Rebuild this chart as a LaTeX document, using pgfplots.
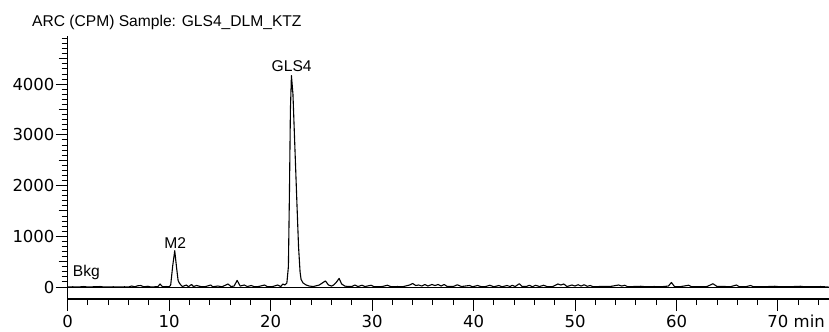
\documentclass[border=0pt]{standalone}
\usepackage{fontspec}
\setmainfont{Liberation Sans}
\newfontfamily\tickfont{DejaVu Sans}
\usepackage{pgfplots}
\pgfplotsset{compat=1.18}
\begin{document}
\begin{tikzpicture}
\begin{axis}[name=ax, scale only axis, width=761pt, height=263pt,
  xmin=0, xmax=75, ymin=-236, ymax=4950,
  axis x line*=bottom, axis y line*=left,
  axis line style={line width=1.1pt, -},
  tick align=outside,
  major tick length=12pt, minor tick length=6pt,
  every tick/.style={line width=1pt, black},
  xtick={0,10,...,70}, xticklabels={0,10,20,30,40,50,60,{70\rlap{ min}}},
  minor xtick={2,4,6,8,12,14,16,18,22,24,26,28,32,34,36,38,42,44,46,48,52,54,56,58,62,64,66,68,72,74},
  ytick={0,1000,...,4000},
  minor ytick={100,200,...,4900},
  extra y ticks={500,1500,2500,3500,4500}, extra y tick labels={},
  extra tick style={major tick length=9pt},
  /pgf/number format/1000 sep={},
  /pgf/number format/assume math mode=true,
  tick label style={font=\tickfont\fontsize{16.5}{18}\selectfont, black},
  yticklabel style={inner sep=1pt},
  xticklabel style={inner sep=0pt, yshift=-4pt},
  clip=false,
]
\addplot[black, line width=0.8pt] coordinates {(0,0) (75,0)};
\addplot[black, line width=1.1pt, line join=round] coordinates {
(0,0) (0.5,5) (1.0,0) (1.6,10) (2.0,0) (2.5,5) (3.2,10) (3.6,0) (4.5,5) (5.0,0)
(5.6,5) (6.0,0) (6.3,20) (6.6,5) (6.9,25) (7.2,30) (7.5,5) (7.9,15) (8.2,0) (8.6,5)
(8.9,10) (9.1,60) (9.35,5) (9.7,10) (10.0,5) (10.15,40) (10.35,420) (10.55,715) (10.72,400) (10.88,130)
(11.0,80) (11.15,40) (11.3,10) (11.7,40) (11.9,5) (12.2,50) (12.4,10) (12.7,30) (12.9,20) (13.2,5)
(13.6,10) (14.1,40) (14.3,5) (14.8,20) (15.2,5) (15.8,60) (16.1,10) (16.4,20) (16.7,130) (17.0,20)
(17.4,40) (17.7,10) (18.1,30) (18.4,5) (18.8,10) (19.4,40) (19.7,5) (20.2,10) (20.7,40) (21.0,10)
(21.2,60) (21.4,40) (21.6,80) (21.75,400) (21.85,1800) (21.95,3500) (22.05,4170) (22.2,3800) (22.4,2700) (22.6,1600)
(22.75,800) (22.9,300) (23.0,150) (23.2,80) (23.5,40) (23.8,20) (24.2,10) (24.8,40) (25.1,80) (25.4,120)
(25.7,40) (26.0,20) (26.2,40) (26.5,100) (26.75,170) (27.0,60) (27.3,20) (27.6,10) (28.0,10) (28.3,40)
(28.6,10) (29.0,35) (29.3,10) (29.9,35) (30.2,5) (31.0,10) (31.5,35) (31.9,5) (32.5,10) (33.0,5)
(33.4,25) (33.7,40) (34.0,70) (34.3,30) (34.6,40) (34.9,20) (35.2,50) (35.5,20) (35.9,50) (36.2,30)
(36.5,50) (36.8,20) (37.1,50) (37.4,10) (38.0,10) (38.4,45) (38.8,10) (39.2,20) (39.6,30) (39.9,5)
(40.4,30) (40.8,5) (41.2,10) (41.6,35) (42.0,5) (42.5,30) (42.8,5) (43.3,30) (43.6,10) (43.8,35)
(44.1,10) (44.5,65) (44.8,10) (45.2,10) (45.5,35) (45.8,5) (46.1,35) (46.5,10) (46.9,35) (47.3,5)
(47.8,10) (48.3,60) (48.6,40) (48.9,60) (49.2,10) (49.7,40) (50.0,20) (50.3,45) (50.6,20) (50.9,45)
(51.2,15) (51.5,30) (51.8,5) (52.4,10) (53.0,10) (53.6,15) (54.0,30) (54.3,40) (54.6,20) (54.9,35)
(55.2,5) (55.8,10) (56.5,15) (57.0,5) (57.8,10) (58.5,5) (59.2,20) (59.5,90) (59.8,10) (60.3,5)
(61.2,35) (61.5,5) (62.2,5) (63.0,10) (63.6,65) (64.0,10) (64.8,10) (65.3,5) (65.9,40) (66.2,5)
(66.8,5) (67.3,30) (67.6,5) (68.5,5) (69.7,15) (70.2,5) (71.0,5) (72.2,15) (72.6,5) (73.5,5)
(74.2,10) (75,0)
};
\node[anchor=base, inner sep=0pt, font=\fontsize{15.6}{18}\selectfont] at (axis cs:22.07,4243) {GLS4};
\node[anchor=base, inner sep=0pt, font=\fontsize{15.6}{18}\selectfont] at (axis cs:10.6,763) {M2};
\node[anchor=base west, inner sep=0pt, font=\fontsize{15.6}{18}\selectfont] at (axis cs:0.49,203) {Bkg};
\end{axis}
\node[anchor=base west, inner sep=0pt, font=\fontsize{15.6}{18}\selectfont] at ([xshift=-35.7pt, yshift=9pt]ax.north west) {ARC (CPM) Sample: GLS4\_DLM\_KTZ};
\pgfresetboundingbox
\path ([xshift=-67.7pt,yshift=-32pt]ax.south west) rectangle ([xshift=0.3pt,yshift=36pt]ax.north east);
\end{tikzpicture}
\end{document}
